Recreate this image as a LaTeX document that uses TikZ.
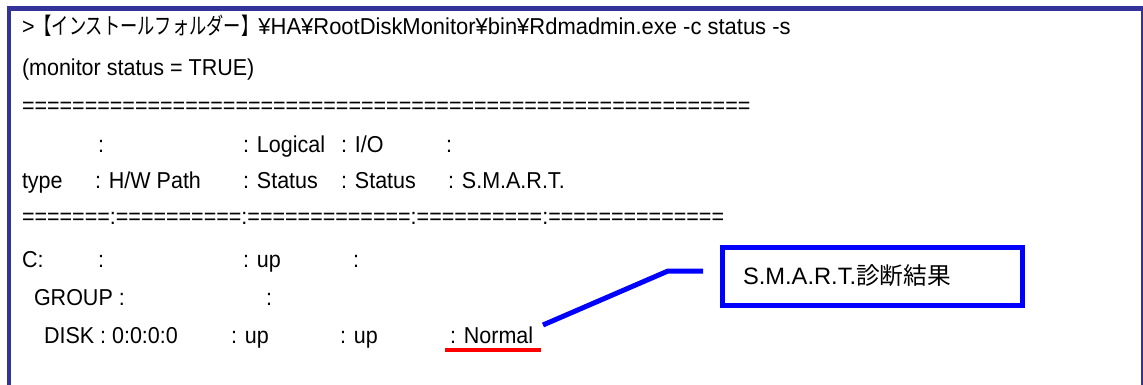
\documentclass[tikz,border=0pt]{standalone}
\usepackage{fontspec}
\setmainfont{Liberation Sans}[FakeStretch=0.935]
\newfontfamily\jp{Noto Sans CJK JP}[FakeStretch=0.75]
\newfontfamily\rowone{Liberation Sans}[FakeStretch=0.955]
\newfontfamily\plainsans{Liberation Sans}
\newfontfamily\jpplain{Noto Sans CJK JP}
\definecolor{framecol}{RGB}{51,51,153}
\definecolor{calloutblue}{RGB}{0,0,255}
\definecolor{markred}{RGB}{255,0,0}
\begin{document}
\begin{tikzpicture}[x=1pt,y=-1pt,
  txt/.style={font=\fontsize{23}{28}\selectfont, inner sep=0pt, outer sep=0pt, anchor=base west, text=black},
  frameline/.style={draw=framecol, line width=4.5pt},
  callout/.style={draw=calloutblue, line width=5pt},
  boxstyle/.style={draw=calloutblue, line width=5pt, fill=white, font=\fontsize{23.7}{28}\plainsans, text width=258pt, align=left, inner xsep=21pt, inner ysep=0pt, minimum height=58pt, anchor=west},
  underline/.style={draw=markred, line width=4pt}]
\useasboundingbox (0,0) rectangle (1143,385);
\clip (0,0) rectangle (1143,385);
\fill[white] (0,0) rectangle (1143,385);
\draw[frameline] (9,400) -- (9,8.5) -- (1143,8.5) -- (1143,400);

% row 1
\node[txt] (r1) at (22,35) {>{\jp 【インストールフォルダー】}{\rowone ¥HA¥RootDiskMonitor¥bin¥Rdmadmin.exe -c status -s}};
% row 2
\node[txt] (r2) at (22,76) {(monitor status = TRUE)};
% row 3
\node[txt] (r3) at (22,114) {==========================================================};
% row 4
\node[txt] (r4a) at (98,153) {:};
\node[txt] (r4b) at (243,153) {: Logical};
\node[txt] (r4c) at (341,153) {: I/O};
\node[txt] (r4d) at (446,153) {:};
% row 5
\node[txt] (r5a) at (22,188) {type};
\node[txt] (r5b) at (95,188) {: H/W Path};
\node[txt] (r5c) at (243,188) {: Status};
\node[txt] (r5d) at (341,188) {: Status};
\node[txt] (r5e) at (448,188) {: S.M.A.R.T.};
% row 6
\node[txt] (r6) at (22,224) {=======:==========:=============:==========:==============};
% row 7
\node[txt] (r7a) at (22,267) {C:};
\node[txt] (r7b) at (98,267) {:};
\node[txt] (r7c) at (243,267) {: up};
\node[txt] (r7d) at (353,267) {:};
% row 8
\node[txt] (r8a) at (34,305) {GROUP :};
\node[txt] (r8b) at (266,305) {:};
% row 9
\node[txt] (r9a) at (44,343) {DISK : 0:0:0:0};
\node[txt] (r9b) at (231,343) {: up};
\node[txt] (r9c) at (340,343) {: up};
\node[txt] (r9d) at (450,343) {: Normal};

% underline under Normal
\coordinate (u1) at (445,349.5);
\coordinate (u2) at (541,349.5);
\draw[underline] (u1) -- (u2);

% callout box
\node[boxstyle] (box) at (719.5,276) {S.M.A.R.T.{\jpplain 診断結果}};
\coordinate (c1) at (543,325);
\coordinate (c2) at (668,271);
\coordinate (c3) at (703,271);
\draw[callout] (c1) -- (c2) -- (c3);
\end{tikzpicture}
\end{document}
